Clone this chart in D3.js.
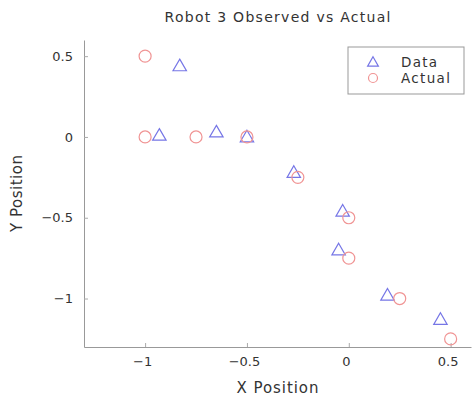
<!DOCTYPE html>
<html>
<head>
<meta charset="utf-8">
<script src="https://cdn.jsdelivr.net/npm/d3@7"></script>
<style>
  body { margin: 0; background: #fff; }
  text { font-family: "DejaVu Sans", Verdana, sans-serif; fill: #333; }
</style>
</head>
<body>
<div id="chart"></div>
<script>
// observed (Data) and true (Actual) robot positions
var dataX = [-0.83, -0.93, -0.65, -0.5, -0.27, -0.03, -0.05, 0.19, 0.45];
var dataY = [0.44, 0.01, 0.03, 0.0, -0.22, -0.46, -0.70, -0.98, -1.13];
var actualX = [-1, -1, -0.75, -0.5, -0.25, 0, 0, 0.25, 0.5];
var actualY = [0.5, 0, 0, 0, -0.25, -0.5, -0.75, -1, -1.25];
var xTicks = [-1, -0.5, 0, 0.5];
var yTicks = [0.5, 0, -0.5, -1];

var W = 472, H = 398;
var margin = {top: 40, right: 1, bottom: 51, left: 84},
    width = W - margin.left - margin.right,
    height = H - margin.top - margin.bottom;

var svg = d3.select("#chart")
  .append("svg")
    .attr("width", W)
    .attr("height", H)
  .append("g")
    .attr("transform", "translate(" + margin.left + "," + margin.top + ")");

var x = d3.scaleLinear().domain([-1.3, 0.6]).range([0, width]);
var y = d3.scaleLinear().domain([-1.3, 0.6]).range([height, 0]);

var fmt = d => d == 0 ? "0" : String(d).replace("-", "\u2212");

// axes: ticks point inward, no box
var xAxis = svg.append("g")
  .attr("transform", "translate(0," + height + ")")
  .call(d3.axisBottom(x).tickValues(xTicks).tickFormat(fmt).tickSizeInner(-4).tickSizeOuter(0).tickPadding(10));
var yAxis = svg.append("g")
  .call(d3.axisLeft(y).tickValues(yTicks).tickFormat(fmt).tickSizeInner(-4).tickSizeOuter(0).tickPadding(11));

[xAxis, yAxis].forEach(function(a) {
  a.select(".domain").attr("stroke", "#999");
  a.selectAll(".tick line").attr("stroke", "#aaa");
  a.selectAll(".tick text").style("font-size", "13px").style("fill", "#333")
    .style("font-family", "'DejaVu Sans', Verdana, sans-serif");
});
xAxis.selectAll(".tick text").attr("dx", -3);

// titles (stretched a bit, the original font runs wide)
svg.append("text")
  .attr("x", width / 2)
  .attr("y", -18)
  .attr("text-anchor", "middle")
  .attr("textLength", 226)
  .attr("lengthAdjust", "spacing")
  .style("font-size", "14px")
  .text("Robot 3 Observed vs Actual");

svg.append("text")
  .attr("x", width / 2)
  .attr("y", height + 46)
  .attr("text-anchor", "middle")
  .attr("textLength", 82)
  .attr("lengthAdjust", "spacing")
  .style("font-size", "15px")
  .text("X Position");

svg.append("text")
  .attr("transform", "translate(-62," + (height / 2) + ") rotate(-90)")
  .attr("text-anchor", "middle")
  .attr("textLength", 77)
  .attr("lengthAdjust", "spacing")
  .style("font-size", "15px")
  .text("Y Position");

var blue = "#7676e6", red = "#f09494";
var tri = d3.symbol().type(d3.symbolTriangle).size(78);
var triSmall = d3.symbol().type(d3.symbolTriangle).size(50);

// Data: triangles
svg.selectAll(".data")
  .data(dataX.map((d, i) => [d, dataY[i]]))
  .enter()
  .append("path")
    .attr("class", "data")
    .attr("d", tri)
    .attr("transform", d => "translate(" + x(d[0]) + "," + (y(d[1]) + 1) + ")")
    .attr("fill", "none")
    .attr("stroke", blue)
    .attr("stroke-width", 1.2);

// Actual: circles
svg.selectAll(".actual")
  .data(actualX.map((d, i) => [d, actualY[i]]))
  .enter()
  .append("circle")
    .attr("class", "actual")
    .attr("cx", d => x(d[0]))
    .attr("cy", d => y(d[1]))
    .attr("r", 6)
    .attr("fill", "none")
    .attr("stroke", red)
    .attr("stroke-width", 1.2);

// legend
var lg = svg.append("g").attr("transform", "translate(" + (348 - margin.left) + "," + (47 - margin.top) + ")");
lg.append("rect")
  .attr("width", 116).attr("height", 47)
  .attr("fill", "#fff").attr("stroke", "#999");
lg.append("path").attr("d", triSmall)
  .attr("transform", "translate(25,16)")
  .attr("fill", "none").attr("stroke", blue).attr("stroke-width", 1.2);
lg.append("circle").attr("cx", 25).attr("cy", 31).attr("r", 4.5)
  .attr("fill", "none").attr("stroke", red).attr("stroke-width", 1.2);
lg.append("text").attr("x", 53).attr("y", 20).attr("textLength", 36).attr("lengthAdjust", "spacing")
  .style("font-size", "13.5px").text("Data");
lg.append("text").attr("x", 53).attr("y", 36).attr("textLength", 49).attr("lengthAdjust", "spacing")
  .style("font-size", "13.5px").text("Actual");
</script>
</body>
</html>
